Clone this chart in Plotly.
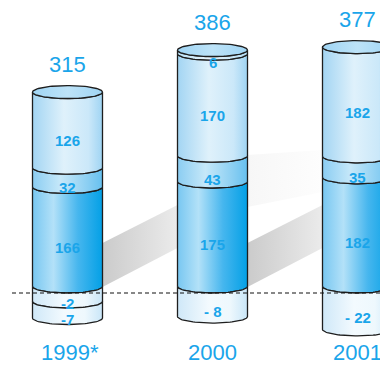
import numpy as np
import plotly.graph_objects as go

# ---- data -------------------------------------------------------------
YEARS = ["1999*", "2000", "2001"]
NEG_UPPER = [-2, -8, -22]       # first block below zero
NEG_LOWER = [-7, None, None]    # second block below zero
POS_BASE = [166, 175, 182]      # first block above zero
POS_MID = [32, 43, 35]
POS_UPPER = [126, 170, 182]
POS_TOP = [None, 6, None]
NEG_PREFIX = ["-", "- ", "- "]  # how the negative labels are written per year

# ---- geometry of the canvas / axes --------------------------------------
W, H = 380, 365
X_RANGE = [-0.4655, 2.1552]
PX_X = W / (X_RANGE[1] - X_RANGE[0])
ZERO_PX = 293                    # zero line, pixels from the top
PX_PER_VAL = 0.6                 # linear axis for the positive stack
PX_PER_DECADE = 31.5             # log axis for the negative stack
Y_RANGE = [-(H - ZERO_PX) / PX_PER_VAL, ZERO_PX / PX_PER_VAL]
Y2_RANGE = [(H - ZERO_PX) / PX_PER_DECADE, -ZERO_PX / PX_PER_DECADE]
NEG_BASE = 1                     # origin of the downward stack on the log axis

RX = 35 / PX_X                   # cylinder radius (x units)
RY_PX = 6.5                      # ellipse half-height in pixels
RY_VAL = RY_PX / PX_PER_VAL

BLUE = "#1aa5ea"
EDGE = "#1e1e1e"

NEG_FILL = [[0, "#cfe8f8"], [0.45, "#f3fafe"], [0.75, "#eef8fd"], [1, "#c9e6f8"]]
BASE_FILL = [[0, "#78c7f1"], [0.3, "#b3e1f8"], [0.65, "#46b6ee"], [1, "#03a0e6"]]
MID_FILL = [[0, "#8bcdf2"], [0.4, "#c6e8f9"], [0.8, "#89cef2"], [1, "#66c0ef"]]
UPPER_FILL = [[0, "#a3d5f3"], [0.45, "#dff1fb"], [0.8, "#cbe8f9"], [1, "#9fd4f3"]]
TOP_FILL = [[0, "#b9e0f6"], [0.45, "#e9f6fd"], [1, "#b5def5"]]
CAP_FILL = [[0, "#a0d5f4"], [0.5, "#bde3f8"], [1, "#a0d5f4"]]

POS_SERIES = [(POS_BASE, BASE_FILL), (POS_MID, MID_FILL),
              (POS_UPPER, UPPER_FILL), (POS_TOP, TOP_FILL)]
NEG_SERIES = [NEG_UPPER, NEG_LOWER]

T = np.linspace(0, np.pi, 49)


def arc_pos(cx, b, left_to_right=True):
    t = T[::-1] if left_to_right else T
    return cx + RX * np.cos(t), b + RY_VAL * (1 - np.sin(t))


def arc_neg(cx, m, left_to_right=True):
    t = T[::-1] if left_to_right else T
    return cx + RX * np.cos(t), m * 10 ** (-(RY_PX / PX_PER_DECADE) * (1 - np.sin(t)))


def poly(cx, lo, hi, arc, yaxis, scale):
    x0, y0 = arc(cx, lo, True)
    x1, y1 = arc(cx, hi, False)
    xs = np.concatenate([x0, x1, x0[:1]])
    ys = np.concatenate([y0, y1, y0[:1]])
    return go.Scatter(x=xs, y=ys, yaxis=yaxis, mode="lines", fill="toself",
                      fillgradient=dict(type="horizontal", colorscale=scale),
                      line=dict(color=EDGE, width=1.3), hoverinfo="skip",
                      showlegend=False)


def band(x0, x1, l0, l1, r0, r1, scale):
    return go.Scatter(x=[x0, x1, x1, x0, x0], y=[l0, r0, r1, l1, l0],
                      mode="lines", fill="toself", line=dict(width=0),
                      fillgradient=dict(type="horizontal", colorscale=scale),
                      hoverinfo="skip", showlegend=False)


def px_to_val(px_from_top):
    return (ZERO_PX - px_from_top) / PX_PER_VAL


fig = go.Figure()
annotations = []

# soft floor shadows between neighbouring cylinders
fig.add_trace(band(1 + RX, 2 - RX,
                   px_to_val(207), px_to_val(155),
                   px_to_val(192), px_to_val(150),
                   [[0, "#f7f7f7"], [1, "#fdfdfd"]]))
for i in range(len(YEARS) - 1):
    fig.add_trace(band(i + RX, i + 1 - RX,
                       px_to_val(287), px_to_val(243),
                       px_to_val(248), px_to_val(205),
                       [[0, "#cbcbcb"], [1, "#ebebeb"]]))

label_font = dict(family="Liberation Sans, Arial, sans-serif", size=15,
                  color=BLUE, weight="bold")
big_font = dict(family="Liberation Sans, Arial, sans-serif", size=22, color=BLUE)

for i, year in enumerate(YEARS):
    cx = i
    # negative stack, downward on the log axis
    m = NEG_BASE
    for series in NEG_SERIES:
        v = series[i]
        if v is None:
            continue
        m_next = m + abs(v)
        fig.add_trace(poly(cx, m, m_next, arc_neg, "y2", NEG_FILL))
        annotations.append(dict(
            x=cx, y=(np.log10(m) + np.log10(m_next)) / 2, xref="x", yref="y2",
            text=f"{NEG_PREFIX[i]}{abs(v)}", showarrow=False, font=label_font,
            yshift=-3))
        m = m_next

    # positive stack on the linear axis
    level = 0
    for series, scale in POS_SERIES:
        v = series[i]
        if v is None:
            continue
        top = level + v
        fig.add_trace(poly(cx, level, top, arc_pos, "y", scale))
        annotations.append(dict(
            x=cx, y=(level + top) / 2, xref="x", yref="y", text=str(v),
            showarrow=False, font=label_font, yshift=-4))
        level = top

    # top cap
    tt = np.linspace(0, 2 * np.pi, 97)
    fig.add_trace(go.Scatter(
        x=cx + RX * np.cos(tt), y=level + RY_VAL + RY_VAL * np.sin(tt),
        mode="lines", fill="toself",
        fillgradient=dict(type="horizontal", colorscale=CAP_FILL),
        line=dict(color=EDGE, width=1.3), hoverinfo="skip", showlegend=False))

    total = sum(s[i] for s in [POS_BASE, POS_MID, POS_UPPER, POS_TOP] + NEG_SERIES
                if s[i] is not None)
    annotations.append(dict(x=cx, y=level, xref="x", yref="y", text=str(total),
                            showarrow=False, font=big_font, yshift=34))
    annotations.append(dict(x=cx, y=0, xref="x", yref="y", text=year,
                            showarrow=False, font=big_font, yshift=-59,
                            xshift=2 if year.endswith("*") else 0))

fig.update_layout(
    width=W, height=H,
    margin=dict(l=0, r=0, t=0, b=0),
    paper_bgcolor="white", plot_bgcolor="white",
    xaxis=dict(range=X_RANGE, visible=False, fixedrange=True),
    yaxis=dict(range=Y_RANGE, visible=False, fixedrange=True),
    yaxis2=dict(range=Y2_RANGE, type="log", overlaying="y", visible=False,
                fixedrange=True),
    annotations=annotations,
    shapes=[dict(type="line", xref="x", yref="y", x0=(12 - 67.5) / PX_X,
                 x1=X_RANGE[1], y0=0, y1=0, layer="above",
                 line=dict(color="#111111", width=1.2, dash="4px,3px"))],
    showlegend=False,
)

fig.write_html("out.html")
